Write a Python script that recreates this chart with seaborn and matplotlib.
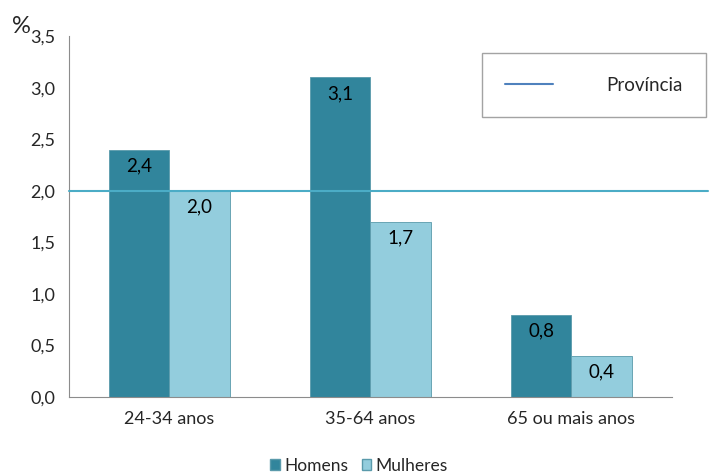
import matplotlib
matplotlib.use("Agg")
import matplotlib.pyplot as plt
from matplotlib.lines import Line2D
from matplotlib.patches import Patch
import seaborn as sns
import pandas as pd

# values
grupos = ["24-34 anos", "35-64 anos", "65 ou mais anos"]
homens = [2.4, 3.1, 0.8]
mulheres = [2.0, 1.7, 0.4]
provincia = 2.0
yticks = [0.0, 0.5, 1.0, 1.5, 2.0, 2.5, 3.0, 3.5]

cor_h = "#31859c"
cor_m = "#93cddd"
cor_linha = "#4bacc6"

df = pd.DataFrame({
    "grupo": grupos * 2,
    "sexo": ["Homens"] * 3 + ["Mulheres"] * 3,
    "valor": homens + mulheres,
})

sns.set_style("white")
plt.rcParams["font.family"] = ["Lato", "DejaVu Sans"]

fig = plt.figure(figsize=(7.11, 4.75), dpi=100)
ax = fig.add_axes([0.097, 0.164, 0.848, 0.76])

sns.barplot(data=df, x="grupo", y="valor", hue="sexo", order=grupos,
            hue_order=["Homens", "Mulheres"], palette=[cor_h, cor_m],
            width=0.6, saturation=1, edgecolor="#5a9aab", linewidth=0.6,
            legend=False, ax=ax)

for cont in ax.containers:
    ax.bar_label(cont, labels=[f"{v:.1f}".replace(".", ",") for v in cont.datavalues],
                 padding=-18, fontsize=13.5, color="black")

# linha da provincia, prolongada ate a borda direita da figura
ax.axhline(provincia, xmin=0, xmax=1.06, color=cor_linha, lw=1.5, clip_on=False, zorder=5)

ax.set_ylim(0, 3.5)
ax.set_yticks(yticks)
ax.set_yticklabels([f"{t:.1f}".replace(".", ",") for t in yticks], fontsize=13)
ax.tick_params(axis="x", labelsize=13, length=0, pad=10)
ax.tick_params(axis="y", length=0, pad=10)
ax.set_xlabel("")
ax.set_ylabel("")
for s in ["top", "right"]:
    ax.spines[s].set_visible(False)
ax.spines["left"].set_color("#8c8c8c")
ax.spines["bottom"].set_color("#8c8c8c")

fig.text(0.017, 0.93, "%", fontsize=17)

# legenda da provincia
fig.legend(handles=[Line2D([], [], color="#4f81bd", lw=1.5)], labels=["Província"],
           loc="upper left", bbox_to_anchor=(0.678, 0.888), borderaxespad=0,
           fontsize=13.5, frameon=True, fancybox=False, edgecolor="#8c8c8c",
           handlelength=2.55, handletextpad=2.8, borderpad=1.25)

fig.legend(handles=[Patch(facecolor=cor_h, edgecolor="#5a9aab"),
                    Patch(facecolor=cor_m, edgecolor="#5a9aab")],
           labels=["Homens", "Mulheres"], loc="lower center",
           bbox_to_anchor=(0.505, -0.03), ncol=2, frameon=False, fontsize=12.5,
           handlelength=0.55, handleheight=0.55, handletextpad=0.25, columnspacing=0.8)

fig.savefig("out.png", dpi=100)
